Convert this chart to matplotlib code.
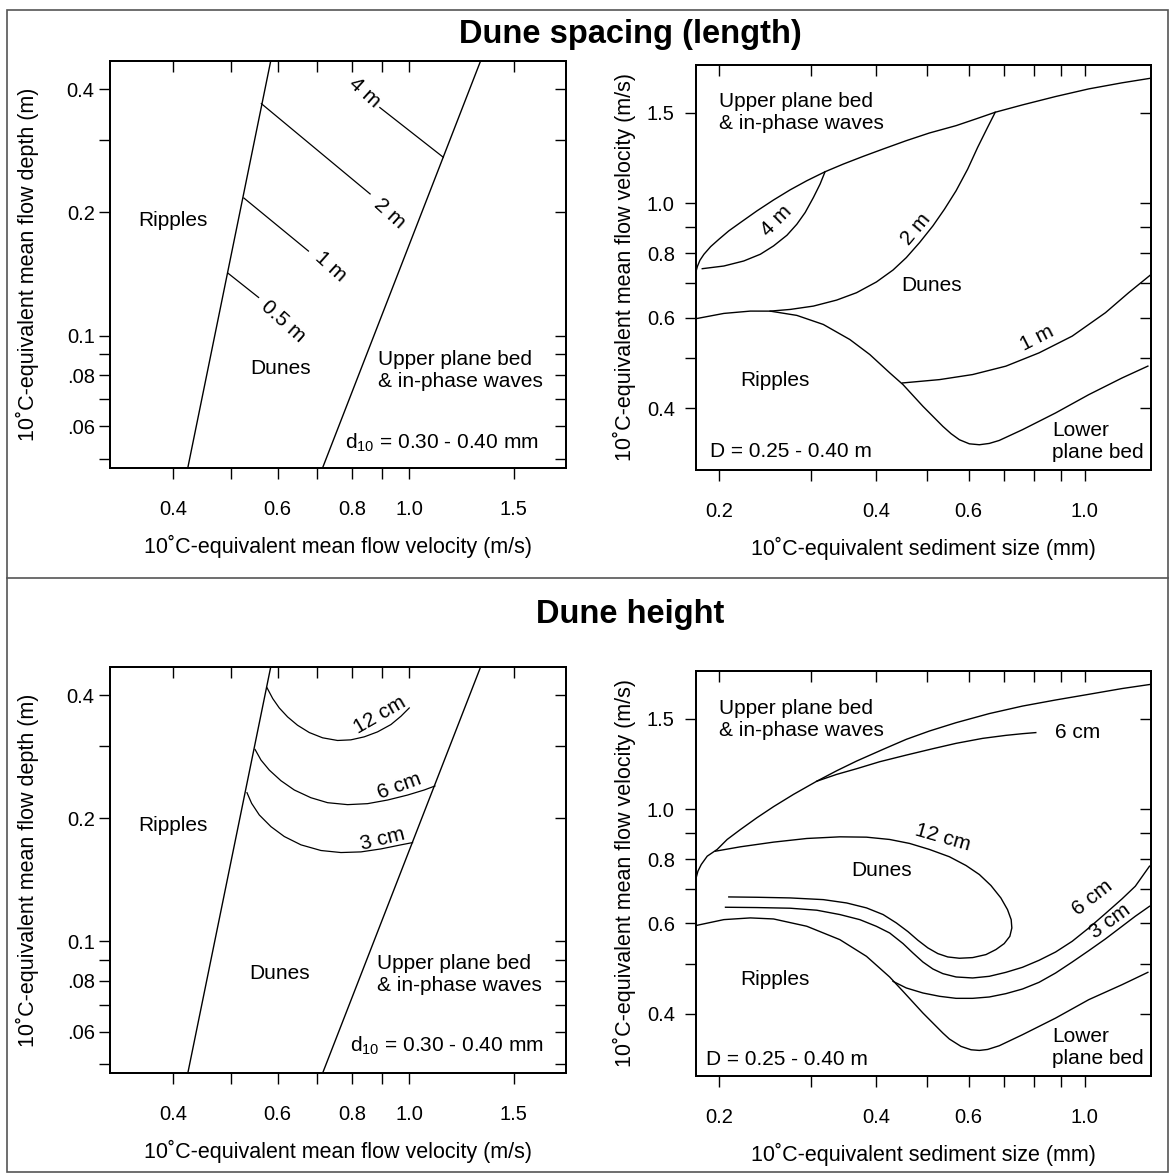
import matplotlib
matplotlib.use("Agg")
import matplotlib.pyplot as plt
from matplotlib.ticker import FixedLocator, FixedFormatter, NullFormatter, NullLocator
from matplotlib.patches import Rectangle
from matplotlib.lines import Line2D

plt.rcParams['font.family'] = ['Liberation Sans', 'DejaVu Sans']
plt.rcParams['mathtext.default'] = 'regular'

# ---------------- left panels: mean flow velocity (m/s) vs mean flow depth (m) ----------------
vel_ticks = [0.4, 0.5, 0.6, 0.7, 0.8, 0.9, 1.0, 1.5]
vel_labels = ['0.4', '', '0.6', '', '0.8', '', '1.0', '1.5']
depth_ticks = [0.05, 0.06, 0.07, 0.08, 0.09, 0.1, 0.2, 0.3, 0.4]
depth_labels = ['', '.06', '', '.08', '', '0.1', '0.2', '', '0.4']

# phase boundaries (straight on log-log)
ripple_dune_v = [0.423, 0.584]
ripple_dune_d = [0.0475, 0.470]
dune_upper_v = [0.714, 1.320]
dune_upper_d = [0.0475, 0.470]

# dune spacing contours
sp05_v = [0.495, 0.557]
sp05_d = [0.142, 0.124]
sp1_v = [0.526, 0.676]
sp1_d = [0.217, 0.161]
sp2_v = [0.563, 0.859]
sp2_d = [0.369, 0.222]
sp4_v = [0.892, 1.141]
sp4_d = [0.361, 0.273]

# dune height contours
h12_v = [0.5754, 0.5885, 0.6036, 0.6235, 0.6478, 0.6782, 0.7142, 0.7570, 0.7970, 0.8396,
         0.8841, 0.9313, 0.9681, 1.0]
h12_d = [0.4176, 0.3926, 0.3725, 0.3541, 0.3380, 0.3243, 0.3148, 0.3101, 0.3112, 0.3165,
         0.3255, 0.3392, 0.3554, 0.3725]
h6_v = [0.5494, 0.5622, 0.5807, 0.6075, 0.6398, 0.6825, 0.7282, 0.7870, 0.8505, 0.9194,
        0.9935, 1.0600, 1.1048]
h6_d = [0.2948, 0.2777, 0.2624, 0.2472, 0.2346, 0.2246, 0.2184, 0.2160, 0.2172, 0.2217,
        0.2280, 0.2346, 0.2399]
h3_v = [0.5324, 0.5421, 0.5585, 0.5844, 0.6154, 0.6567, 0.7097, 0.7670, 0.8289, 0.8958,
        0.9681, 1.0130]
h3_d = [0.2311, 0.2176, 0.2038, 0.1908, 0.1805, 0.1722, 0.1668, 0.1649, 0.1655, 0.1683,
        0.1722, 0.1744]

# ---------------- right panels: sediment size (mm) vs mean flow velocity (m/s) ----------------
size_ticks = [0.2, 0.3, 0.4, 0.5, 0.6, 0.7, 0.8, 0.9, 1.0]
size_labels = ['0.2', '', '0.4', '', '0.6', '', '', '', '1.0']
velr_ticks = [0.4, 0.5, 0.6, 0.7, 0.8, 0.9, 1.0, 1.5]
velr_labels = ['0.4', '', '0.6', '', '0.8', '', '1.0', '1.5']

# spacing panel
upper_a_s = [0.1806, 0.1819, 0.1840, 0.1873, 0.1929, 0.2000, 0.2089, 0.2199, 0.2365, 0.2544,
             0.2737, 0.2944, 0.3190, 0.3457, 0.3773, 0.4118, 0.4560, 0.5050, 0.5676, 0.6195,
             0.6743, 0.7602, 0.8795, 1.0176, 1.1776, 1.3390]
upper_a_v = [0.7334, 0.7536, 0.7753, 0.7966, 0.8243, 0.8518, 0.8845, 0.9182, 0.9676, 1.0160,
             1.0632, 1.1073, 1.1528, 1.1932, 1.2351, 1.2764, 1.3251, 1.3716, 1.4173, 1.4607,
             1.5050, 1.5554, 1.6149, 1.6711, 1.7171, 1.7535]
ripple_a_s = [0.1806, 0.2044, 0.2297, 0.2506, 0.2818, 0.3166, 0.3558, 0.3884, 0.4239, 0.4495,
              0.4906, 0.5356, 0.5553, 0.5760, 0.6018, 0.6289, 0.6569, 0.6863, 0.7602, 0.8795,
              1.0176, 1.1776, 1.3195]
ripple_a_v = [0.5967, 0.6111, 0.6175, 0.6174, 0.6057, 0.5816, 0.5436, 0.5083, 0.4683, 0.4442,
              0.4031, 0.3684, 0.3565, 0.3470, 0.3407, 0.3393, 0.3413, 0.3459, 0.3630, 0.3913,
              0.4247, 0.4576, 0.4826]
ls4_s = [0.1859, 0.2044, 0.2231, 0.2400, 0.2544, 0.2698, 0.2818, 0.2923, 0.3031, 0.3121, 0.3190]
ls4_v = [0.7467, 0.7557, 0.7729, 0.7966, 0.8270, 0.8674, 0.9113, 0.9604, 1.0273, 1.0907, 1.1528]
ls2_s = [0.2506, 0.2737, 0.3031, 0.3357, 0.3664, 0.3999, 0.4302, 0.4560, 0.4834, 0.5126,
         0.5394, 0.5676, 0.5974, 0.6241, 0.6521, 0.6743]
ls2_v = [0.6174, 0.6221, 0.6315, 0.6487, 0.6705, 0.7036, 0.7423, 0.7846, 0.8393, 0.9045,
         0.9748, 1.0585, 1.1668, 1.2858, 1.4069, 1.5050]
ls1_s = [0.4482, 0.528, 0.6106, 0.7066, 0.8176, 0.946, 1.095, 1.2127, 1.339]
ls1_v = [0.4475, 0.4543, 0.4647, 0.4825, 0.5121, 0.552, 0.6131, 0.6706, 0.728]

# height panel
upper_b_s = [0.1806, 0.1824, 0.1851, 0.1900, 0.1985, 0.2074, 0.2199, 0.2365, 0.2544, 0.2777,
             0.3076, 0.3357, 0.3664, 0.4118, 0.4560, 0.5050, 0.5676, 0.6569, 0.7602, 0.8795,
             1.0176, 1.1776, 1.3390]
upper_b_v = [0.7306, 0.7585, 0.7815, 0.8111, 0.8360, 0.8741, 0.9140, 0.9638, 1.0127, 1.0698,
             1.1348, 1.1891, 1.2419, 1.3090, 1.3690, 1.4211, 1.4750, 1.5364, 1.5890, 1.6330,
             1.6750, 1.7187, 1.7520]
ripple_b_s = [0.1806, 0.2044, 0.2297, 0.2544, 0.2944, 0.3405, 0.3828, 0.4239, 0.4495, 0.4906,
              0.5356, 0.5512, 0.5801, 0.6063, 0.6289, 0.6521, 0.6863, 0.7602, 0.8795, 1.0176,
              1.1776, 1.3195]
ripple_b_v = [0.5943, 0.6104, 0.6151, 0.6122, 0.5925, 0.5580, 0.5178, 0.4720, 0.4427, 0.4017,
              0.3672, 0.3575, 0.3459, 0.3407, 0.3397, 0.3412, 0.3469, 0.3645, 0.3927, 0.4265,
              0.4560, 0.4820]
lh6u_s = [0.3076, 0.3357, 0.3664, 0.4059, 0.4560, 0.5126, 0.5676, 0.6379, 0.7066, 0.7602, 0.806]
lh6u_v = [1.1348, 1.1700, 1.2000, 1.2385, 1.2757, 1.3128, 1.3446, 1.3749, 1.3936, 1.4041, 1.411]
lh12_s = [0.1971, 0.2199, 0.2544, 0.2944, 0.3405, 0.3828, 0.4239, 0.4627, 0.5050, 0.5512,
          0.5931, 0.6289, 0.6617, 0.6912, 0.7117, 0.7233, 0.7254, 0.7191, 0.7015, 0.6764,
          0.6474, 0.6106, 0.5760, 0.5473, 0.5239, 0.5015, 0.4799, 0.4594, 0.4365, 0.4118,
          0.3828, 0.3508, 0.3166, 0.2737, 0.2365, 0.2089]
lh12_v = [0.8295, 0.8459, 0.8638, 0.8780, 0.8845, 0.8832, 0.8741, 0.8587, 0.8358, 0.8090,
          0.7778, 0.7470, 0.7112, 0.6727, 0.6384, 0.6103, 0.5880, 0.5665, 0.5483, 0.5338,
          0.5219, 0.5149, 0.5134, 0.5164, 0.5242, 0.5377, 0.5565, 0.5784, 0.6014, 0.6244,
          0.6433, 0.6577, 0.6676, 0.6727, 0.6747, 0.6757]
lh6_s = [0.2059, 0.2365, 0.2737, 0.3076, 0.3405, 0.3718, 0.3999, 0.4239, 0.4495, 0.4695,
         0.4906, 0.5126, 0.5356, 0.5676, 0.6106, 0.6569, 0.7066, 0.7602, 0.8176, 0.8795,
         0.9461, 1.0176, 1.0947, 1.1776, 1.2485, 1.3290]
lh6_v = [0.6452, 0.6443, 0.6424, 0.6367, 0.6244, 0.6103, 0.5923, 0.5749, 0.5483, 0.5257,
         0.5048, 0.4893, 0.4792, 0.4721, 0.4700, 0.4735, 0.4820, 0.4930, 0.5087, 0.5280,
         0.5540, 0.5880, 0.6272, 0.6698, 0.7089, 0.7756]
lh3_s = [0.4302, 0.4560, 0.4906, 0.5280, 0.5676, 0.6106, 0.6569, 0.7066, 0.7602, 0.8176,
         0.8795, 0.9461, 1.0176, 1.0947, 1.1776, 1.2485, 1.3290]
lh3_v = [0.4629, 0.4494, 0.4394, 0.4329, 0.4290, 0.4290, 0.4316, 0.4381, 0.4473, 0.4609,
         0.4806, 0.5048, 0.5312, 0.5598, 0.5923, 0.6197, 0.6480]

FS = 15
LW = 1.0


def style_axes(ax, xlim, ylim, xt, xl, yt, yl, xlabel, ylabel, ylab_x, ypad):
    ax.set_xscale('log')
    ax.set_yscale('log')
    ax.set_xlim(*xlim)
    ax.set_ylim(*ylim)
    for axis, t, l in ((ax.xaxis, xt, xl), (ax.yaxis, yt, yl)):
        axis.set_major_locator(FixedLocator(t))
        axis.set_major_formatter(FixedFormatter(l))
        axis.set_minor_locator(NullLocator())
    ax.tick_params(direction='out', length=8, width=1.0, labelsize=14.5)
    ax.tick_params(axis='x', pad=15)
    ax.tick_params(axis='y', pad=ypad)
    for s in ax.spines.values():
        s.set_linewidth(1.2)
    ax.set_xlabel(xlabel, fontsize=15.5)
    ax.set_ylabel(ylabel, fontsize=15.5)
    ax.xaxis.set_label_coords(0.5, -0.165)
    ax.yaxis.set_label_coords(ylab_x, 0.5)

    # inward ticks on top and right
    axt = ax.twiny()
    axt.set_xscale('log')
    axt.set_xlim(*xlim)
    axt.xaxis.set_major_locator(FixedLocator(xt))
    axt.xaxis.set_major_formatter(NullFormatter())
    axt.xaxis.set_minor_locator(NullLocator())
    axt.tick_params(axis='x', direction='in', length=8, width=1.0)
    axr = ax.twinx()
    axr.set_yscale('log')
    axr.set_ylim(*ylim)
    axr.yaxis.set_major_locator(FixedLocator(yt))
    axr.yaxis.set_major_formatter(NullFormatter())
    axr.yaxis.set_minor_locator(NullLocator())
    axr.tick_params(axis='y', direction='in', length=8, width=1.0)
    for a in (axt, axr):
        for s in a.spines.values():
            s.set_linewidth(1.2)


def put(ax, s, x, y, rot=0, ha='center'):
    ax.text(x, y, s, fontsize=FS, ha=ha, va='center', rotation=rot, rotation_mode='anchor')


fig = plt.figure(figsize=(11.7, 11.75), dpi=100)

left_xlim = (0.3127, 1.838)
left_ylim = (0.0476, 0.470)
right_xlim = (0.1806, 1.338)
right_ylim = (0.303, 1.86)
xlab_v = '10˚C-equivalent mean flow velocity (m/s)'
ylab_d = '10˚C-equivalent mean flow depth (m)'
xlab_s = '10˚C-equivalent sediment size (mm)'
ylab_v = '10˚C-equivalent mean flow velocity (m/s)'

# ---- top left: spacing, velocity-depth ----
ax1 = fig.add_axes([0.0940, 0.6020, 0.3897, 0.3464])
ax1.plot(ripple_dune_v, ripple_dune_d, color='black', lw=LW)
ax1.plot(dune_upper_v, dune_upper_d, color='black', lw=LW)
for xs, ys in ((sp05_v, sp05_d), (sp1_v, sp1_d), (sp2_v, sp2_d), (sp4_v, sp4_d)):
    ax1.plot(xs, ys, color='black', lw=LW * 0.9)
put(ax1, '4 m', 0.8405, 0.3926, -42)
put(ax1, '2 m', 0.926, 0.1985, -42)
put(ax1, '1 m', 0.7366, 0.1472, -42)
put(ax1, '0.5 m', 0.6124, 0.1082, -42)
put(ax1, 'Ripples', 0.40, 0.191)
put(ax1, 'Dunes', 0.606, 0.0832)
put(ax1, 'Upper plane bed\n& in-phase waves', 0.885, 0.0822, ha='left')
put(ax1, 'd$_{10}$ = 0.30 - 0.40 mm', 0.78, 0.0548, ha='left')
style_axes(ax1, left_xlim, left_ylim, vel_ticks, vel_labels, depth_ticks, depth_labels,
           xlab_v, ylab_d, -0.155, 3)

# ---- top right: spacing, size-velocity ----
ax2 = fig.add_axes([0.5946, 0.6000, 0.3892, 0.3447])
for xs, ys in ((upper_a_s, upper_a_v), (ripple_a_s, ripple_a_v), (ls4_s, ls4_v),
               (ls2_s, ls2_v), (ls1_s, ls1_v)):
    ax2.plot(xs, ys, color='black', lw=LW)
put(ax2, '4 m', 0.258, 0.925, 45)
put(ax2, '2 m', 0.4766, 0.891, 50)
put(ax2, '1 m', 0.8117, 0.5479, 27)
put(ax2, 'Upper plane bed\n& in-phase waves', 0.2, 1.50, ha='left')
put(ax2, 'Dunes', 0.5087, 0.693)
put(ax2, 'Ripples', 0.2563, 0.453)
put(ax2, 'D = 0.25 - 0.40 m', 0.1923, 0.3293, ha='left')
put(ax2, 'Lower\nplane bed', 0.867, 0.3444, ha='left')
style_axes(ax2, right_xlim, right_ylim, size_ticks, size_labels, velr_ticks, velr_labels,
           xlab_s, ylab_v, -0.131, 7)

# ---- bottom left: height, velocity-depth ----
ax3 = fig.add_axes([0.0940, 0.0868, 0.3897, 0.3458])
ax3.plot(ripple_dune_v, ripple_dune_d, color='black', lw=LW)
ax3.plot(dune_upper_v, dune_upper_d, color='black', lw=LW)
for xs, ys in ((h12_v, h12_d), (h6_v, h6_d), (h3_v, h3_d)):
    ax3.plot(xs, ys, color='black', lw=LW * 0.9)
put(ax3, '12 cm', 0.8935, 0.3575, 30)
put(ax3, '6 cm', 0.962, 0.2399, 20)
put(ax3, '3 cm', 0.903, 0.1777, 14)
put(ax3, 'Ripples', 0.40, 0.192)
put(ax3, 'Dunes', 0.605, 0.0832)
put(ax3, 'Upper plane bed\n& in-phase waves', 0.884, 0.0829, ha='left')
put(ax3, 'd$_{10}$ = 0.30 - 0.40 mm', 0.795, 0.0556, ha='left')
style_axes(ax3, left_xlim, left_ylim, vel_ticks, vel_labels, depth_ticks, depth_labels,
           xlab_v, ylab_d, -0.155, 3)

# ---- bottom right: height, size-velocity ----
ax4 = fig.add_axes([0.5946, 0.0843, 0.3892, 0.3447])
for xs, ys in ((upper_b_s, upper_b_v), (ripple_b_s, ripple_b_v), (lh6u_s, lh6u_v),
               (lh12_s, lh12_v), (lh6_s, lh6_v), (lh3_s, lh3_v)):
    ax4.plot(xs, ys, color='black', lw=LW)
put(ax4, 'Upper plane bed\n& in-phase waves', 0.2, 1.497, ha='left')
put(ax4, '6 cm', 0.877, 1.411, ha='left')
put(ax4, '12 cm', 0.5356, 0.881, -16)
put(ax4, 'Dunes', 0.4088, 0.7605)
put(ax4, '6 cm', 1.0326, 0.6728, 38)
put(ax4, '3 cm', 1.119, 0.606, 36)
put(ax4, 'Ripples', 0.2563, 0.4665)
put(ax4, 'D = 0.25 - 0.40 m', 0.1887, 0.326, ha='left')
put(ax4, 'Lower\nplane bed', 0.867, 0.3449, ha='left')
style_axes(ax4, right_xlim, right_ylim, size_ticks, size_labels, velr_ticks, velr_labels,
           xlab_s, ylab_v, -0.131, 7)

# titles, frame and divider
fig.text(0.5385, 0.971, 'Dune spacing (length)', fontsize=23.5, fontweight='bold',
         ha='center', va='center')
fig.text(0.5385, 0.4766, 'Dune height', fontsize=23.5, fontweight='bold',
         ha='center', va='center')
fig.add_artist(Rectangle((0.006, 0.0026), 0.9923, 0.989, transform=fig.transFigure,
                         fill=False, ec='#555555', lw=1.2))
fig.add_artist(Line2D([0.006, 0.9983], [0.508, 0.508], transform=fig.transFigure,
                      color='#555555', lw=1.2))

fig.savefig('out.png', dpi=100)
